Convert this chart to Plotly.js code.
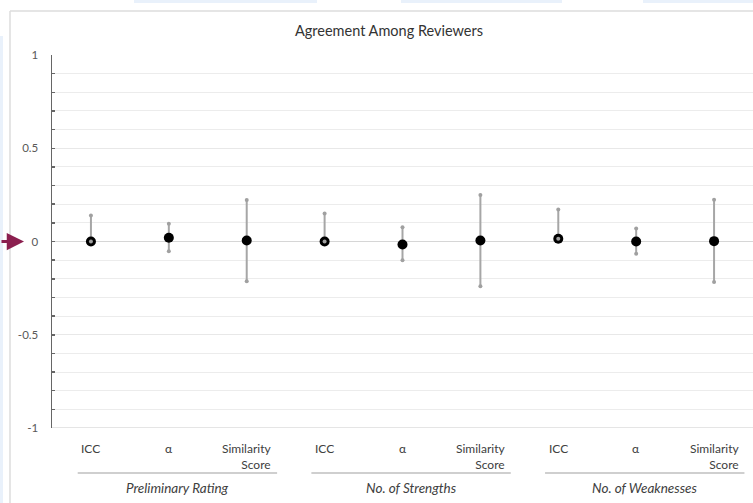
<!DOCTYPE html>
<html>
<head>
<meta charset="utf-8">
<script src="https://cdn.plot.ly/plotly-3.0.1.min.js"></script>
<style>
  html, body { margin: 0; padding: 0; background: #ffffff; }
  #chart { width: 753px; height: 503px; }
</style>
</head>
<body>
<div id="chart"></div>
<script>
// ---- data ----
var groups = ["Preliminary Rating", "No. of Strengths", "No. of Weaknesses"];
var measures = ["ICC", "α", "Similarity<br>Score"];
var values = [0.00, 0.02, 0.005, 0.00, -0.016, 0.005, 0.015, 0.00, 0.002];
var upper  = [0.14, 0.095, 0.222, 0.15, 0.077, 0.25, 0.172, 0.07, 0.224];
var lower  = [0.00, -0.052, -0.213, 0.00, -0.10, -0.24, 0.015, -0.066, -0.217];

// ---- layout helpers (pixel -> paper) ----
var L = 52, R = 753, T = 55, B = 428;
function px(xp) { return (xp - L) / (R - L); }
function py(yp) { return (B - yp) / (B - T); }

var xs = values.map(function (v, i) { return i + 1; });

var errTrace = {
  x: xs, y: values, type: 'scatter', mode: 'markers',
  marker: { color: '#000000', size: 10 },
  error_y: {
    type: 'data', symmetric: false,
    array: upper.map(function (u, i) { return u - values[i]; }),
    arrayminus: lower.map(function (l, i) { return values[i] - l; }),
    color: '#a6a6a6', thickness: 2, width: 0
  },
  hoverinfo: 'none', showlegend: false, cliponaxis: false
};
var capX = xs.concat(xs);
var capY = upper.concat(lower);
var capTrace = {
  x: capX, y: capY, type: 'scatter', mode: 'markers',
  marker: { color: '#a0a0a0', size: 4 },
  hoverinfo: 'none', showlegend: false, cliponaxis: false
};

var annotations = [];
var fontBase = 'Lato, "Open Sans", sans-serif';
// category labels
for (var g = 0; g < groups.length; g++) {
  for (var m = 0; m < measures.length; m++) {
    var idx = g * 3 + m + 1;
    var two = measures[m].indexOf('<br>') >= 0;
    annotations.push({
      x: idx, xref: 'x', y: py(two ? 456 : 448), yref: 'paper',
      text: measures[m], showarrow: false, align: 'right',
      xanchor: 'center', yanchor: 'middle',
      font: { family: fontBase, size: 12, color: '#404040' }
    });
  }
  annotations.push({
    x: g * 3 + 2 + 0.11, xref: 'x', y: py(488), yref: 'paper',
    text: '<i>' + groups[g] + '</i>', showarrow: false,
    xanchor: 'center', yanchor: 'middle',
    font: { family: fontBase, size: 13.5, color: '#404040' }
  });
}
// pointer arrow at zero
annotations.push({
  x: px(24), xref: 'paper', y: 0, yref: 'y',
  ax: -26, ay: 0, axref: 'pixel', ayref: 'pixel',
  text: '', showarrow: true, arrowhead: 2, arrowsize: 1.15,
  arrowwidth: 3, arrowcolor: '#8b1f4f'
});

var shapes = [];
// group separator lines
for (var g2 = 0; g2 < groups.length; g2++) {
  shapes.push({
    type: 'line', xref: 'x', yref: 'paper',
    x0: g2 * 3 + 0.5 + 0.33, x1: g2 * 3 + 3.5 - 0.11,
    y0: py(473), y1: py(473),
    line: { color: '#bfbfbf', width: 1.5 }
  });
}
// chart frame and surrounding light panels
shapes.push({ type: 'line', xref: 'paper', yref: 'paper', x0: px(10), x1: px(10), y0: py(11), y1: py(510), line: { color: '#dcdcdc', width: 1.5 } });
shapes.push({ type: 'line', xref: 'paper', yref: 'paper', x0: px(10), x1: px(760), y0: py(11), y1: py(11), line: { color: '#dcdcdc', width: 1.5 } });
shapes.push({ type: 'rect', xref: 'paper', yref: 'paper', x0: px(0), x1: px(3), y0: py(36), y1: py(510), fillcolor: '#e9f1fb', line: { width: 0 }, layer: 'below' });
[[134, 317], [401, 562], [643, 760]].forEach(function (b) {
  shapes.push({ type: 'rect', xref: 'paper', yref: 'paper', x0: px(b[0]), x1: px(b[1]), y0: py(0), y1: py(3), fillcolor: '#e9f1fb', line: { width: 0 }, layer: 'below' });
});
// bottom boundary grid line at -1
shapes.push({ type: 'line', xref: 'paper', yref: 'y', x0: 0, x1: 1, y0: -1, y1: -1, line: { color: '#dcdcdc', width: 1.5 } });

var layout = {
  width: 753, height: 503,
  margin: { l: L, r: 753 - R, t: T, b: 503 - B, pad: 0 },
  paper_bgcolor: '#ffffff', plot_bgcolor: '#ffffff',
  title: {
    text: 'Agreement Among Reviewers',
    xref: 'container', x: 389 / 753, xanchor: 'center',
    yref: 'container', y: 1 - 31 / 503, yanchor: 'middle',
    font: { family: fontBase, size: 14.5, color: '#333333' }
  },
  xaxis: {
    range: [0.5, 9.5], showgrid: false, zeroline: false,
    showticklabels: false, ticks: '', showline: false, fixedrange: true
  },
  yaxis: {
    range: [-1, 1], tickvals: [-1, -0.5, 0, 0.5, 1],
    ticktext: ['-1', '-0.5', '0', '0.5', '1'],
    showgrid: true, gridcolor: '#e8e8e8', gridwidth: 1,
    zeroline: true, zerolinecolor: '#d6d6d6', zerolinewidth: 1.5,
    showline: true, linecolor: '#666666', linewidth: 1.5,
    ticks: 'inside', ticklen: 3, tickcolor: '#666666', tickwidth: 1.5,
    ticklabelstandoff: 10,
    minor: { dtick: 0.1, showgrid: true, gridcolor: '#ececec', gridwidth: 1, ticks: 'inside', ticklen: 3, tickcolor: '#666666', tickwidth: 1.5 },
    tickfont: { family: fontBase, size: 11.5, color: '#595959' },
    fixedrange: true
  },
  annotations: annotations,
  shapes: shapes,
  showlegend: false
};

Plotly.newPlot('chart', [errTrace, capTrace], layout, { displayModeBar: false, staticPlot: true });
</script>
</body>
</html>
